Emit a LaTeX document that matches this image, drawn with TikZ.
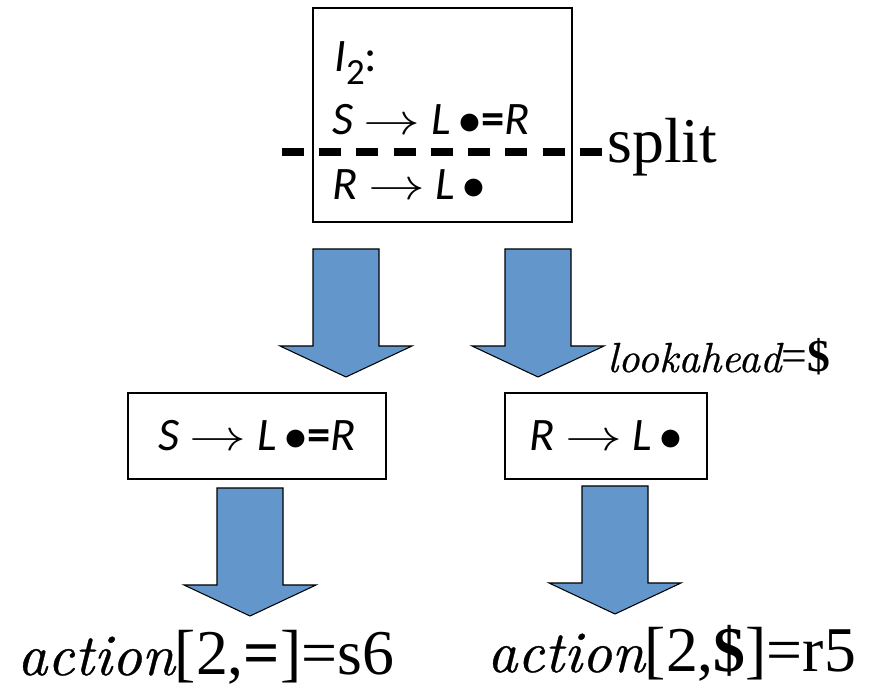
\documentclass[tikz,border=0pt]{standalone}
\usepackage{fontspec}
\setmainfont{Liberation Serif}
\newfontfamily\serifit{lmroman10-italic.otf}[Scale=0.92, FakeBold=0.6]
\newfontfamily\itemfont{Carlito}
\usetikzlibrary{positioning}
\definecolor{arrowblue}{HTML}{6397CB}
\newcommand{\prodarrow}{\scalebox{1.3}[1]{$\rightarrow$}}
\newcommand{\itemdot}{\,\scalebox{1.05}{$\bullet$}}
\newcommand{\emword}[1]{{\serifit #1}}

\begin{document}
\begin{tikzpicture}[
    x=0.02cm, y=-0.02cm,
    itembox/.style={rectangle, draw, line width=1.1pt, inner sep=0pt, font=\fontsize{26.5}{30}\selectfont\itemfont\itshape},
    item/.style={anchor=base west, inner sep=0pt, font=\fontsize{26.5}{30}\selectfont\itemfont\itshape},
    big/.style={anchor=base west, inner sep=0pt, font=\fontsize{36.3}{40}\selectfont},
    cutline/.style={line width=4pt, dash pattern=on 12.47pt off 8.73pt},
    fatarrow/.pic={\draw[fill=arrowblue, line width=0.6pt, line join=miter] (-33,0) -- (33,0) -- (33,97) -- (66,97) -- (0,128) -- (-66,97) -- (-33,97) -- cycle;},
]
    \useasboundingbox (0,0) rectangle (869,688);

    % State I2
    \node[itembox, minimum width=5.18cm, minimum height=4.28cm] (state2) at (442.5,115) {};
    \node[item] (head) at (334,72) {I\raisebox{-7pt}{\upshape\fontsize{21}{24}\selectfont 2}\upshape:};
    \node[item] (rowS) at (332,135) {S\ \prodarrow\ L\itemdot{\upshape\bfseries =}R};
    \node[item] (rowR) at (332,200) {R\ \prodarrow\ L\itemdot};

    % Split line
    \coordinate (cutL) at (282,152);
    \coordinate (cutR) at (603,152);
    \draw[cutline] (cutL) -- (cutR);
    \node[big] (split) at (607,163) {split};

    % Items after the split
    \pic at (346,249) {fatarrow};
    \pic at (538,249) {fatarrow};
    \node[font=\fontsize{26}{30}\selectfont, anchor=base west, inner sep=0pt] (look) at (607,372) {\emword{lookahead}=\textbf{\$}};
    \node[itembox, minimum width=5.16cm, minimum height=1.72cm] (shiftitem) at (257,436) {S\ \prodarrow\ L\itemdot{\upshape\bfseries =}R};
    \node[itembox, minimum width=4.04cm, minimum height=1.72cm] (reduceitem) at (606,436) {R\ \prodarrow\ L\itemdot};

    % Actions
    \pic at (250,488) {fatarrow};
    \pic at (615,486) {fatarrow};
    \node[big] (shiftact) at (17,675) {\emword{action}[2,\textbf{=}]=s6};
    \node[big] (reduceact) at (487,672) {\emword{action}[2,\textbf{\$}]=r5};
\end{tikzpicture}
\end{document}
